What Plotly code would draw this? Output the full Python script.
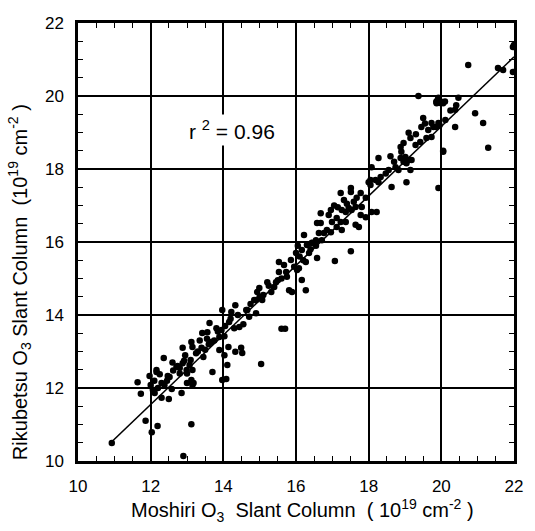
import plotly.graph_objects as go

moshiri = [
 10.93, 11.64, 11.73, 11.86, 12.19, 12.03, 13.12, 12.90, 11.97, 12.00, 12.16, 12.25, 12.36, 12.47, 12.30,
 12.38, 12.11, 12.30, 12.50, 12.58, 12.85, 12.74, 12.88, 12.99, 13.07, 13.18, 13.00, 13.10, 12.16, 12.52,
 12.71, 12.60, 12.80, 12.95, 12.80, 13.15, 12.62, 12.45, 12.20, 12.06, 12.10, 13.00, 12.92,
 12.88, 13.12, 13.15, 13.42, 13.56, 13.62, 13.67, 13.81, 13.95, 13.89, 14.03, 13.89, 14.03, 14.14, 14.33,
 14.49, 14.52, 14.16, 14.30, 14.44, 14.22, 13.97, 14.33, 14.63, 14.71, 14.90, 14.90, 13.70, 14.11, 14.08,
 13.97, 13.12, 13.15, 13.30, 13.40, 13.50, 13.25, 13.60, 13.75, 13.55, 13.85, 14.05, 14.20, 13.45, 13.35,
 14.40, 14.55, 15.04, 15.60, 15.70,
 14.66, 14.85, 15.07, 14.93, 14.99, 15.21, 15.32, 15.40, 15.45, 15.81, 15.89, 16.27, 15.53, 15.67, 15.53,
 15.73, 15.86, 15.95, 16.03, 16.08, 16.27, 16.16, 16.16, 16.22, 16.30, 16.36, 16.44, 16.55, 16.58, 16.58,
 15.10, 15.25, 15.60, 15.75, 16.10, 16.20, 16.05, 16.00, 16.40, 14.75, 15.00, 15.50,
 18.08, 18.00, 18.05, 17.23, 17.51, 17.78, 17.32, 17.59, 17.67, 17.92, 17.64, 17.53, 17.45, 17.37, 17.26,
 17.81, 17.78, 17.92, 18.08, 18.22, 16.96, 16.68, 16.90, 16.68, 16.99, 17.12, 17.23, 17.37, 17.26, 17.64,
 17.73, 17.12, 16.96, 16.77, 16.85, 16.63, 16.71, 16.55, 16.44, 17.51, 17.07, 17.05, 17.15, 17.40,
 19.37, 19.86, 19.97, 19.90, 20.05, 20.11, 19.92, 19.78, 19.64, 19.45, 19.73, 19.59, 19.42, 19.29, 19.10,
 19.15, 18.96, 18.88, 18.90, 19.01, 18.88, 19.10, 19.18, 19.04, 18.96, 18.27, 20.05, 19.15, 18.74, 18.82,
 18.55, 18.47, 18.33, 18.19, 18.05, 18.27, 18.63, 19.04, 17.51, 19.92, 19.50, 19.55, 19.30, 18.70, 18.60,
 20.74, 21.56, 21.70, 21.97, 21.97, 22.00, 20.93, 21.15, 20.38, 20.47, 20.41, 20.38, 19.92, 20.00, 19.87,
 20.10, 19.73, 19.85, 19.95, 21.29, 20.05, 20.25,
]

rikubetsu = [
 10.49, 12.16, 11.84, 11.10, 10.96, 10.79, 11.01, 10.14, 12.33, 12.08, 12.44, 12.38, 12.82, 12.33, 12.14,
 12.08, 11.86, 11.73, 11.70, 11.97, 11.86, 12.60, 12.68, 12.49, 12.63, 12.14, 12.14, 12.77, 12.49, 12.30,
 12.58, 12.70, 12.55, 12.90, 12.40, 12.49, 12.48, 12.20, 12.00, 11.95, 12.20, 12.40, 12.75,
 13.10, 13.26, 13.12, 13.51, 13.53, 13.78, 13.26, 13.64, 13.59, 13.40, 13.42, 13.04, 12.90, 13.12, 12.99,
 13.10, 12.96, 13.81, 13.64, 13.67, 14.08, 14.14, 14.27, 14.14, 13.95, 14.41, 14.05, 12.44, 12.63, 12.25,
 12.22, 12.22, 12.08, 13.00, 13.10, 13.05, 12.95, 13.20, 13.30, 13.35, 13.55, 13.70, 13.90, 12.85, 13.30,
 14.00, 13.75, 12.66, 13.62, 13.62,
 14.14, 14.41, 14.41, 14.63, 14.74, 14.90, 14.63, 14.77, 14.90, 14.68, 14.63, 14.68, 15.45, 15.37, 15.18,
 15.18, 15.51, 15.32, 15.23, 15.28, 15.45, 14.96, 15.78, 16.19, 15.92, 15.70, 15.98, 15.90, 16.52, 15.56,
 14.55, 14.80, 15.00, 15.05, 15.60, 15.50, 15.90, 15.70, 15.80, 14.30, 14.50, 14.95,
 18.05, 17.64, 17.56, 17.34, 17.37, 17.34, 17.15, 17.10, 17.21, 17.21, 16.96, 16.88, 16.93, 16.82, 16.88,
 16.96, 16.74, 16.68, 16.82, 16.82, 16.88, 16.79, 16.74, 16.52, 16.55, 16.66, 16.55, 16.55, 16.33, 16.47,
 16.41, 16.41, 16.27, 16.25, 16.33, 16.25, 16.05, 16.05, 15.97, 15.75, 15.48, 17.00, 16.95, 17.05,
 20.00, 19.84, 19.81, 19.90, 19.80, 19.34, 19.26, 19.15, 19.07, 19.15, 18.88, 18.85, 18.74, 18.66, 18.99,
 18.85, 18.71, 18.60, 18.47, 18.33, 18.30, 18.25, 18.25, 18.16, 18.20, 18.30, 18.47, 17.97, 18.05, 17.97,
 17.97, 17.88, 17.78, 17.70, 17.70, 17.64, 17.51, 17.64, 17.48, 17.48, 19.40, 19.25, 18.95, 18.20, 18.35,
 20.85, 20.77, 20.71, 20.66, 21.34, 21.40, 19.53, 19.26, 19.15, 19.95, 19.75, 19.62, 19.95, 19.84, 19.80,
 19.85, 19.26, 19.15, 19.20, 18.58, 18.50, 19.60,
]

fit_x = [10.9, 22.0]
fit_y = [10.5, 21.07]

axis_range = [10, 22]
tick_vals = [10, 12, 14, 16, 18, 20, 22]

FONT = "Liberation Sans, Arial, Helvetica, sans-serif"

fig = go.Figure()
fig.add_trace(go.Scatter(x=fit_x, y=fit_y, mode="lines",
                         line=dict(color="black", width=1.6), showlegend=False, hoverinfo="skip"))
fig.add_trace(go.Scatter(x=moshiri, y=rikubetsu, mode="markers",
                         marker=dict(color="black", size=6.5), showlegend=False))

axis_common = dict(
    range=axis_range, tickvals=tick_vals, showgrid=True, gridcolor="black", gridwidth=1.5,
    showline=True, linecolor="black", linewidth=2.5, mirror="allticks",
    ticks="inside", ticklen=5, tickcolor="black", zeroline=False,
    minor=dict(dtick=0.5, ticks="inside", ticklen=5, tickcolor="black", showgrid=False),
    tickfont=dict(family=FONT, size=17, color="black"),
    fixedrange=True,
)

fig.update_layout(
    width=535, height=531,
    margin=dict(l=78, r=19, t=23, b=70),
    plot_bgcolor="white", paper_bgcolor="white",
    xaxis=dict(**axis_common, ticklabelstandoff=8),
    yaxis=dict(**axis_common, ticklabelstandoff=8),
    annotations=[
        dict(x=14.25, y=19.07, xref="x", yref="y", text="r <sup>2</sup> = 0.96",
             showarrow=False, font=dict(family=FONT, size=21, color="black"),
             bgcolor="white", borderpad=2),
        dict(x=0.514, y=-0.113, xref="paper", yref="paper", xanchor="center", yanchor="middle",
             text="Moshiri O<sub>3</sub>  Slant Column  ( 10<sup>19</sup> cm<sup>-2</sup> )",
             showarrow=False, font=dict(family=FONT, size=20, color="black")),
        dict(x=-0.1324, y=0.409, xref="paper", yref="paper", xanchor="center", yanchor="middle",
             textangle=-90,
             text="Rikubetsu O<sub>3</sub> Slant Column  (10<sup>19</sup> cm<sup>-2</sup> )",
             showarrow=False, font=dict(family=FONT, size=20, color="black")),
    ],
)

fig.write_html("out.html")
